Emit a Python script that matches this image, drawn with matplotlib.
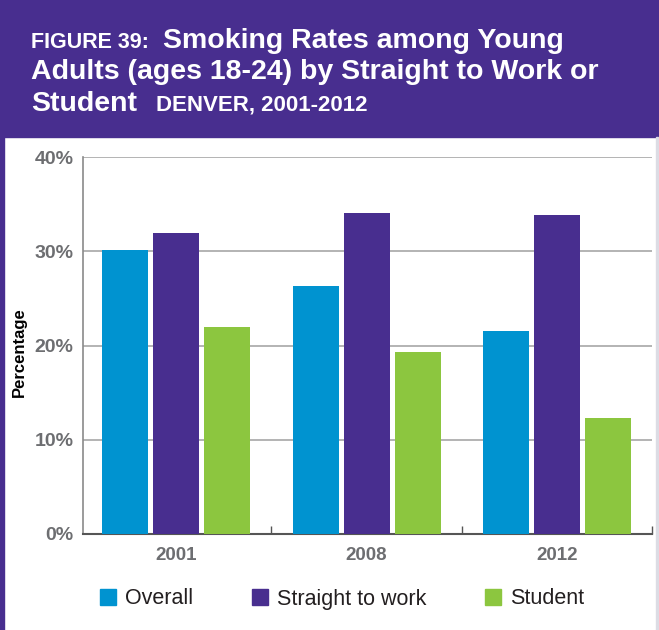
import numpy as np
import matplotlib.pyplot as plt
from matplotlib.patches import Rectangle, Patch

# data
years = ['2001', '2008', '2012']
overall = [30.1, 26.3, 21.5]
straight_to_work = [31.9, 34.1, 33.8]
student = [22.0, 19.3, 12.3]
series_names = ['Overall', 'Straight to work', 'Student']
colors = ['#0093d0', '#482e8f', '#8cc63f']

W, H = 659, 630
fig = plt.figure(figsize=(W / 100, H / 100), dpi=100)

font = ['Liberation Sans', 'DejaVu Sans']
gray = '#6d6e71'

# purple header band and left border
fig.patches.append(Rectangle((0, (H - 137) / H), 1, 137 / H, transform=fig.transFigure,
                             color='#482e8f', zorder=0))
fig.patches.append(Rectangle((0, 0), 4 / W, 1, transform=fig.transFigure,
                             color='#482e8f', zorder=0))
fig.patches.append(Rectangle((656 / W, 0), 1.5 / W, (H - 137) / H, transform=fig.transFigure,
                             color='#dcdce4', zorder=0))

def px(x, y):
    return x / W, 1 - y / H

# title pieces
fig.text(*px(31, 48), 'FIGURE 39:', family=font, weight='bold', size=15.5, color='white')
fig.text(*px(163, 48), 'Smoking Rates among Young', family=font, weight='bold', size=20.5, color='white')
fig.text(*px(31, 79), 'Adults (ages 18-24) by Straight to Work or', family=font, weight='bold', size=20.5, color='white')
fig.text(*px(31, 111), 'Student', family=font, weight='bold', size=20.5, color='white')
fig.text(*px(156, 111), 'DENVER, 2001-2012', family=font, weight='bold', size=16, color='white')

ax = fig.add_axes([83 / W, 1 - 534 / H, (652 - 83) / W, (534 - 157) / H])

x = np.arange(len(years))
width = 0.242
offset = 0.268
ax.bar(x - offset, overall, width, color=colors[0], zorder=3)
ax.bar(x, straight_to_work, width, color=colors[1], zorder=3)
ax.bar(x + offset, student, width, color=colors[2], zorder=3)

ax.set_xlim(-0.49, 2.5)
ax.set_ylim(0, 40)
ax.set_yticks([0, 10, 20, 30, 40])
ax.set_yticklabels(['0%', '10%', '20%', '30%', '40%'])
ax.yaxis.grid(True, color='#a7a7a7', lw=1.2, zorder=0)
ax.tick_params(axis='y', length=0, pad=7, labelsize=14, labelcolor=gray)
for lab in ax.get_yticklabels():
    lab.set_fontweight('bold')
    lab.set_family(font)

ax.set_xticks(x)
ax.set_xticklabels(years)
ax.set_xticks([0.5, 1.5, 2.5], minor=True)
ax.tick_params(axis='x', which='major', length=0, pad=9, labelsize=13.5, labelcolor=gray)
ax.tick_params(axis='x', which='minor', length=6, direction='in', color='#555555', width=1)
for lab in ax.get_xticklabels():
    lab.set_fontweight('bold')
    lab.set_family(font)

for s in ['top', 'right']:
    ax.spines[s].set_visible(False)
ax.spines['left'].set_color('#8a8a8a')
ax.spines['left'].set_linewidth(1.2)
ax.spines['bottom'].set_color('#555555')
ax.spines['bottom'].set_linewidth(1.5)

fig.text(*px(19, 352), 'Percentage', rotation=90, ha='center', va='center',
         family=font, weight='bold', size=12, color='black')

handles = [Patch(color=c) for c in colors]
fig.legend(handles, series_names, loc='center', bbox_to_anchor=px(342, 599), ncol=3,
           frameon=False, handlelength=0.75, handleheight=0.75, handletextpad=0.4,
           columnspacing=2.75, prop={'family': font, 'size': 15.5},
           labelcolor='#231f20')

fig.savefig('out.png', dpi=100)
